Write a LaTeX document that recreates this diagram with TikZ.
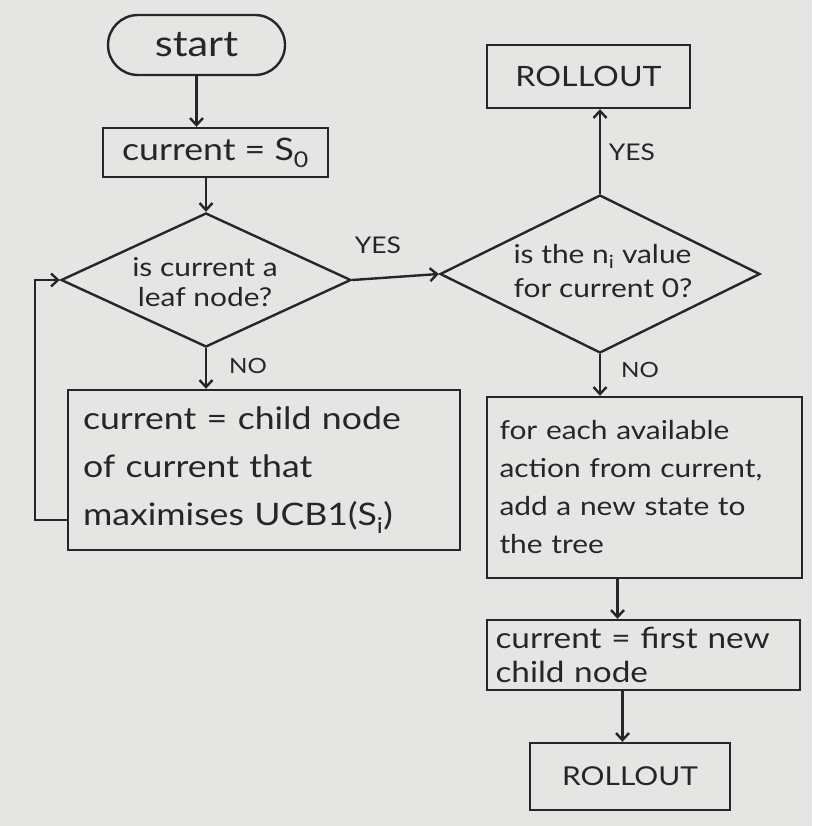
\documentclass[tikz,border=0pt]{standalone}
\usepackage{fontspec}
\setmainfont{Lato}[FakeStretch=1.15]
\usetikzlibrary{shapes.geometric,arrows.meta,calc}
\definecolor{board}{RGB}{229,229,227}
\definecolor{ink}{RGB}{38,38,38}
\begin{document}
\begin{tikzpicture}[x=1pt,y=-1pt,
  inkline/.style={draw=ink, line width=2.4pt},
  arr/.style={inkline, -{Straight Barb[length=7pt,width=13pt]}},
  box/.style={inkline, rectangle, inner sep=0pt, text=ink},
  dia/.style={inkline, diamond, inner sep=0pt, aspect=2},
  lbl/.style={text=ink, font=\fontsize{21}{26}\selectfont},
  dtxt/.style={text=ink, inner sep=0pt},
]
\useasboundingbox[fill=board] (0,0) rectangle (812,826);

% left column
\node[box, rounded corners=30pt, minimum width=177pt, minimum height=60pt,
      font=\fontsize{36}{40}\selectfont] (start) at (196.5,45) {start};
\node[box, minimum width=225pt, minimum height=49pt,
      font=\fontsize{31}{34}\selectfont] (s0) at (215.5,152.5) {current = S\textsubscript{0}};
\node[dia, minimum width=290pt, minimum height=134pt] (d1) at (206,280) {};
\node[dtxt, align=center, font=\fontsize{26}{30}\selectfont] (d1t) at (205,282) {is current a\\leaf node?};
\node[box, minimum width=392pt, minimum height=160pt, text width=362pt, align=left,
      font=\fontsize{31}{48}\selectfont] (b1) at (264,470)
      {current = child node\\of current that\\maximises UCB1(S\textsubscript{i})};

% right column
\node[box, minimum width=203pt, minimum height=63pt,
      font=\fontsize{28}{30}\selectfont] (r1) at (588.5,76.5) {ROLLOUT};
\node[dia, minimum width=320pt, minimum height=158pt] (d2) at (600,274) {};
\node[dtxt, align=left, font=\fontsize{26}{34}\selectfont] (d2t) at (603,271) {is the n\textsubscript{i} value\\for current 0?};
\node[box, minimum width=315pt, minimum height=181pt, text width=290pt, align=left,
      font=\fontsize{26}{38}\selectfont] (b2) at (644.5,487.5)
      {for each available\\action from current,\\add a new state to\\the tree};
\node[box, minimum width=313pt, minimum height=70pt, text width=296pt, align=left,
      font=\fontsize{29}{34}\selectfont] (b3) at (643.5,655)
      {current = first new\\child node};
\node[box, minimum width=200pt, minimum height=67pt,
      font=\fontsize{26}{30}\selectfont] (r2) at (630,776.5) {ROLLOUT};

% connectors
\draw[arr] (start.south) -- (start.south |- s0.north);
\draw[arr] (s0.south -| d1.north) -- (d1.north);
\draw[arr] (d1.south) -- (d1.south |- b1.north);
\node[lbl] (no1) at (248,366) {NO};
\draw[arr] (d1.east) -- (d2.west);
\node[lbl, font=\fontsize{23}{26}\selectfont] (yes1) at (378,245) {YES};
\draw[arr] (d2.north) -- (d2.north |- r1.south);
\node[lbl, font=\fontsize{23}{26}\selectfont] (yes2) at (632,152) {YES};
\draw[arr] (d2.south) -- (d2.south |- b2.north);
\node[lbl] (no2) at (640,370) {NO};
\draw[arr] ([xshift=-27pt]b2.south) -- ([xshift=-27pt]b2.south |- b3.north);
\draw[arr] ([xshift=-21pt]b3.south) -- ([xshift=-21pt]b3.south |- r2.north);
\coordinate (lp) at (35,520);
\draw[arr] (b1.west |- lp) -- (lp) |- (d1.west);
\end{tikzpicture}
\end{document}
